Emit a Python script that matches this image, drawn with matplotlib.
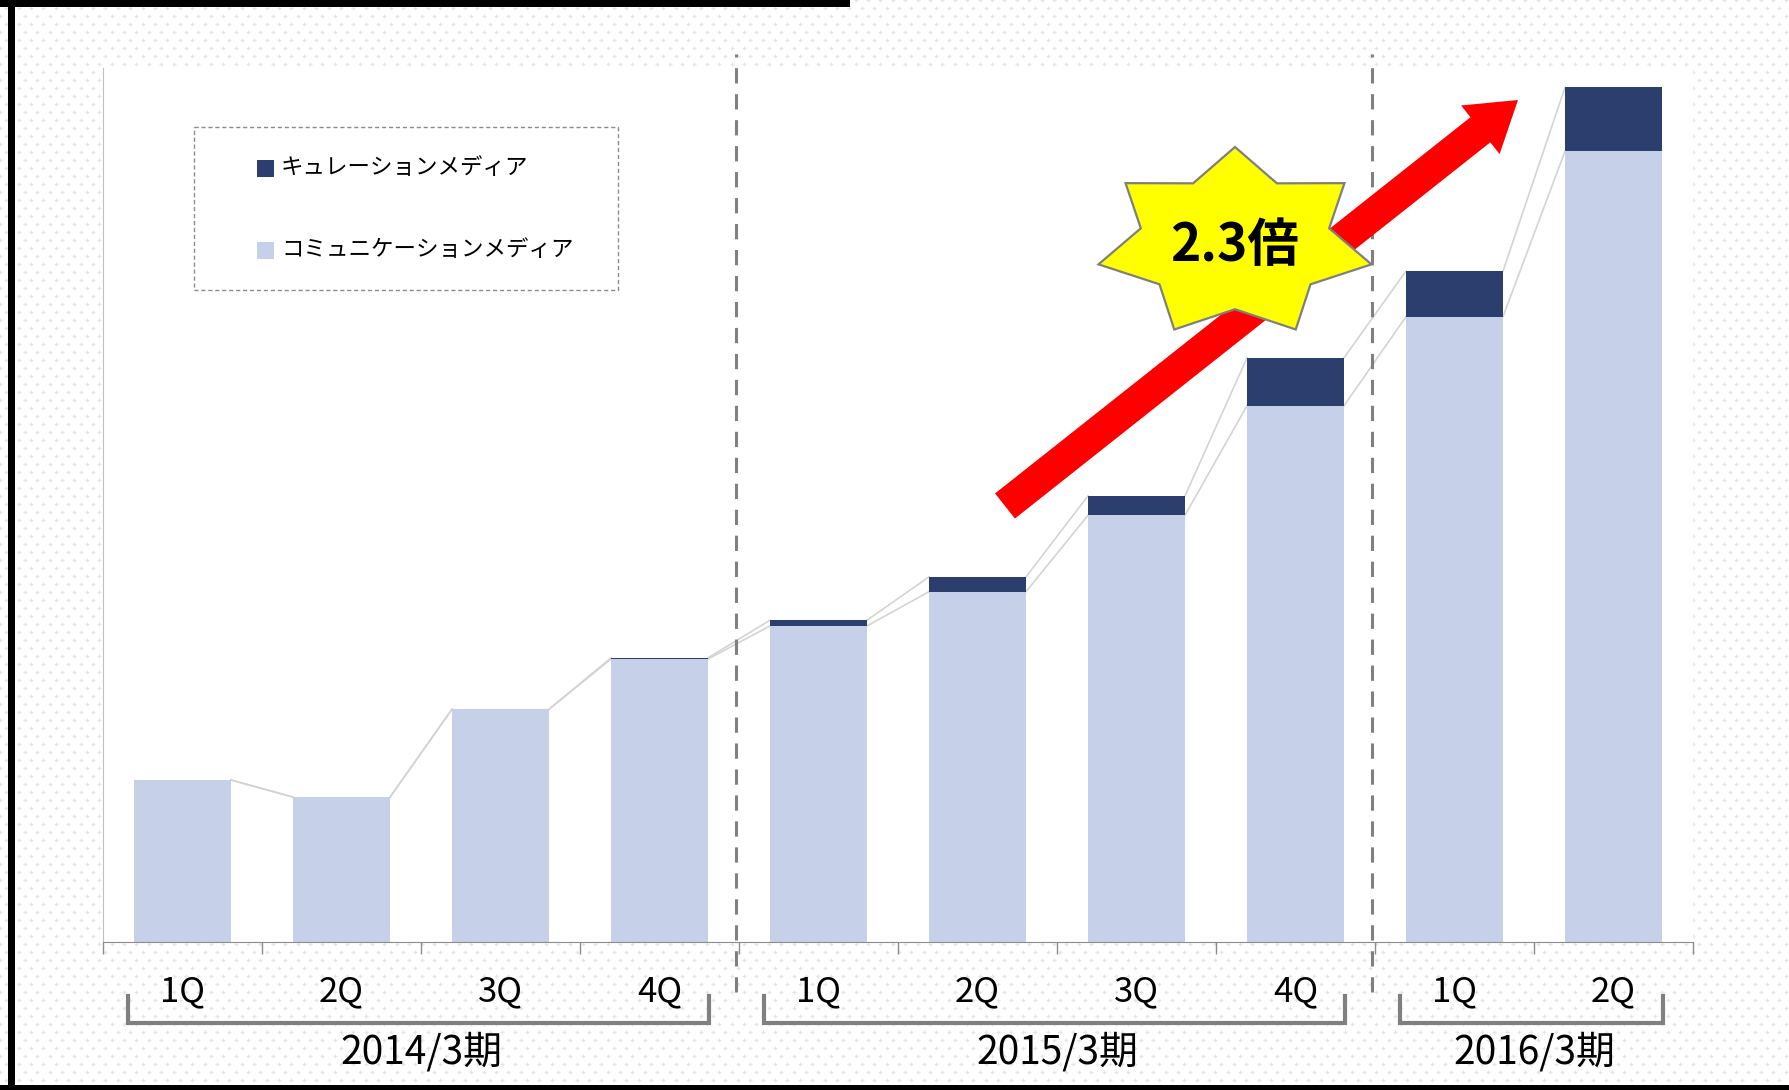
import numpy as np
import matplotlib.pyplot as plt
from matplotlib.patches import Rectangle, Polygon, FancyArrow

plt.rcParams['font.family'] = ['Noto Sans CJK JP', 'DejaVu Sans']

# data
quarters = ['1Q', '2Q', '3Q', '4Q', '1Q', '2Q', '3Q', '4Q', '1Q', '2Q']
communication = [142, 127, 204, 248, 277, 307, 374, 470, 548, 693]
curation = [0, 0, 0, 1, 5, 13, 17, 42, 40, 56]
periods = ['2014/3期', '2015/3期', '2016/3期']
period_first = [0, 4, 8]
period_last = [3, 7, 9]
series_names = ['キュレーションメディア', 'コミュニケーションメディア']
growth_label = '2.3倍'

dark = '#2c3e6d'
light = '#c6d0e8'
grey = '#808080'
link = '#d4d4d4'

W, H = 1789, 1090
fig = plt.figure(figsize=(W / 100, H / 100), dpi=100, facecolor='white')

# slide background with faint plus pattern (pixel coords)
bg = fig.add_axes([0, 0, 1, 1])
bg.set_xlim(0, W)
bg.set_ylim(H, 0)
bg.axis('off')
gx, gy = np.meshgrid(np.arange(0, W, 12.4), np.arange(0, H, 16))
bg.scatter(np.r_[gx.ravel(), gx.ravel() + 6.2], np.r_[gy.ravel(), gy.ravel() + 8],
           marker='+', s=10, lw=0.9, color='#e6e6e6')

# main chart
ax = fig.add_axes([103 / W, 1 - 942 / H, 1590 / W, 874 / H])
ax.set_zorder(1)
ax.set_facecolor('white')
x = np.arange(len(quarters))
bw = 0.61
comm = np.array(communication)
cur = np.array(curation)
ax.bar(x, comm, width=bw, color=light, zorder=2)
ax.bar(x, cur, width=bw, bottom=comm, color=dark, zorder=2)

# series lines between bars
for top in (comm, comm + cur):
    for i in range(len(x) - 1):
        ax.plot([x[i] + bw / 2, x[i + 1] - bw / 2], [top[i], top[i + 1]],
                color=link, lw=1.2, zorder=1)

ax.set_xlim(-0.5, len(x) - 0.5)
ax.set_ylim(0, 766)
ax.set_yticks([])
ax.set_xticks(np.arange(-0.5, len(x)))
ax.set_xticklabels([])
ax.tick_params(axis='x', length=8.5, width=1, color='#8c8c8c')
for s in ('top', 'right'):
    ax.spines[s].set_visible(False)
ax.spines['bottom'].set_color('#8c8c8c')
ax.spines['left'].set_color('#bfbfbf')

xt = ax.get_xaxis_transform()
for i, q in enumerate(quarters):
    ax.text(x[i], -0.057, q, transform=xt, ha='center', va='center', fontsize=25)

for name, a, b in zip(periods, period_first, period_last):
    l, r = a - 0.34, b + 0.31
    ax.plot([l, l, r, r], [-0.062, -0.0927, -0.0927, -0.062], transform=xt,
            clip_on=False, color=grey, lw=3, solid_joinstyle='miter')
    ax.text((a + b) / 2, -0.126, name, transform=xt, ha='center', va='center',
            fontsize=28)

for b in period_last[:-1]:
    ax.plot([b + 0.48] * 2, [-0.057, 1.016], transform=xt, clip_on=False,
            color=grey, lw=2.2, dashes=(5, 3.5), zorder=3)

# overlay: legend, arrow, star, frame (pixel coords)
ov = fig.add_axes([0, 0, 1, 1])
ov.set_zorder(2)
ov.set_xlim(0, W)
ov.set_ylim(H, 0)
ov.axis('off')

ov.add_patch(Rectangle((194, 127), 424, 163, fill=False, ec='#8c8c8c',
                       lw=1, ls=(0, (3, 2))))
for c, name, yy in zip([dark, light], series_names, [168, 250]):
    ov.add_patch(Rectangle((257, yy - 8.5), 17, 17, color=c, lw=0))
    ov.text(281, yy, name, ha='left', va='center', fontsize=16.2)

ov.add_patch(FancyArrow(1005, 506, 513, -406, width=32, head_width=62,
                        head_length=48, length_includes_head=True,
                        color='#ff0000', lw=0))

cx, cy, rx, ry = 1235, 243, 140, 96
ang = np.arange(14) * np.pi / 7
rad = np.where(np.arange(14) % 2 == 0, 1.0, 0.69)
star = np.column_stack([cx + rx * rad * np.sin(ang), cy - ry * rad * np.cos(ang)])
ov.add_patch(Polygon(star, closed=True, fc='#ffff00', ec='#7f7f7f', lw=1.6))
ov.text(cx, cy + 3, growth_label, ha='center', va='center', fontsize=37,
        fontweight='bold')

# black frame pieces of the slide
ov.add_patch(Rectangle((0, 0), 850, 7, color='black', lw=0))
ov.add_patch(Rectangle((8, 0), 7, H, color='black', lw=0))
ov.add_patch(Rectangle((0, 1085), W, 5, color='black', lw=0))

fig.savefig('out.png', dpi=100, facecolor=fig.get_facecolor())
